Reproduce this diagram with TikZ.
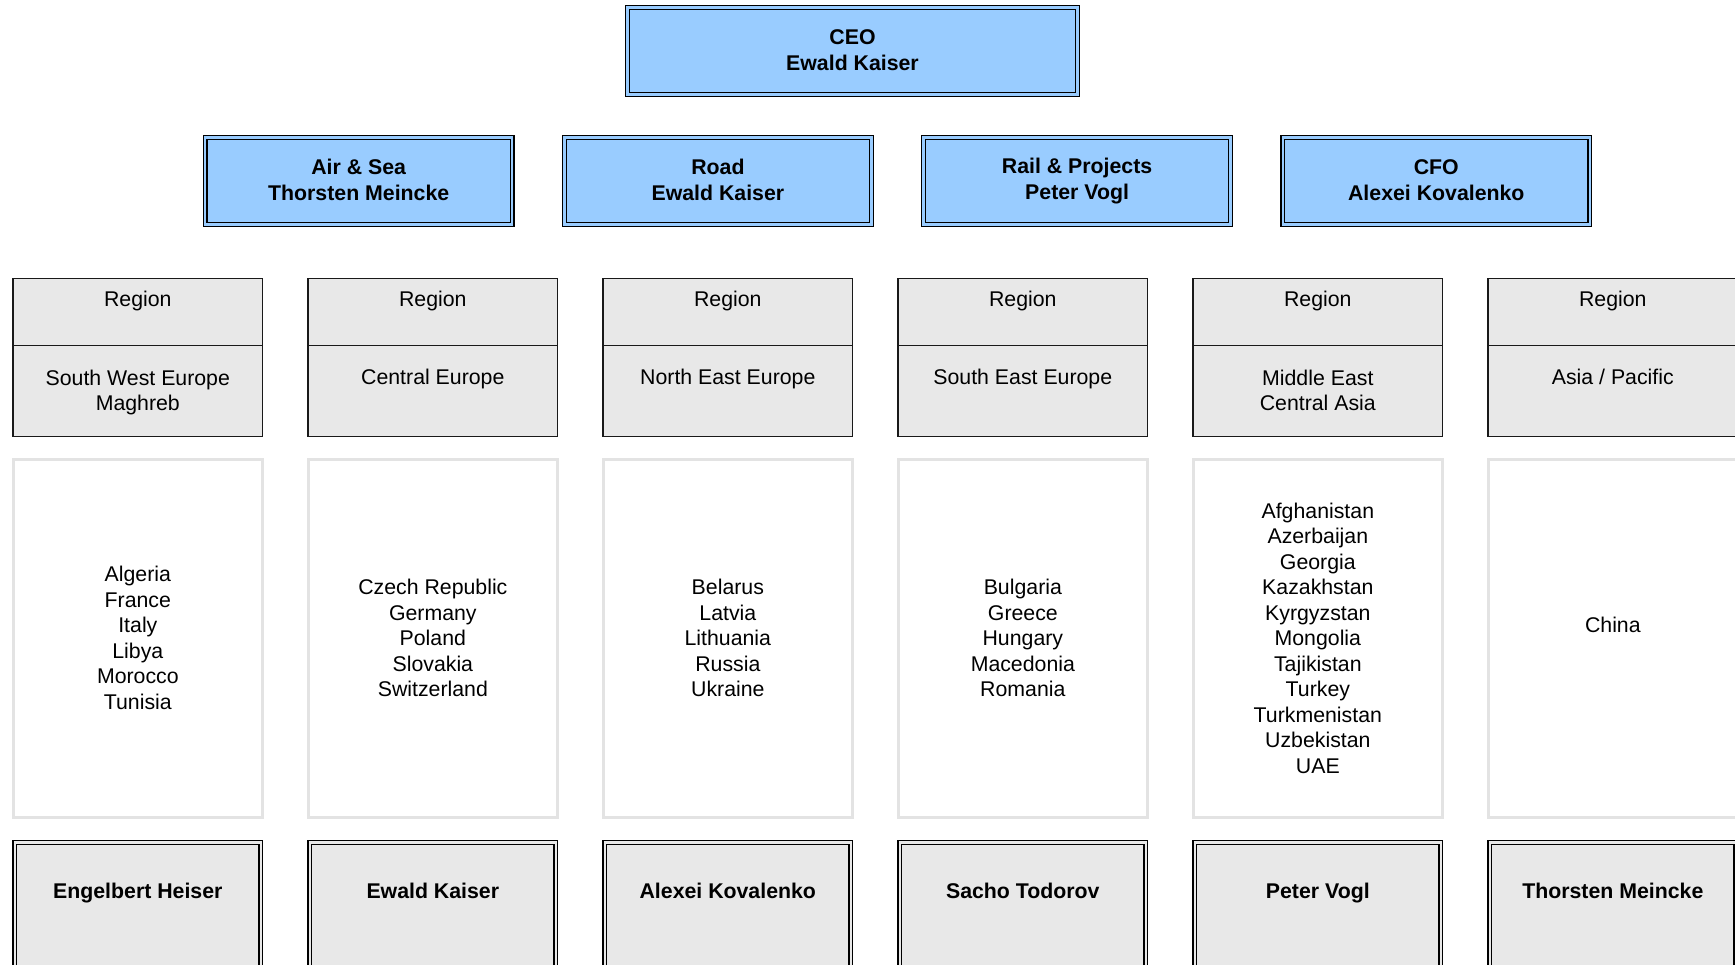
\documentclass[tikz,border=0pt]{standalone}
\usepackage{fontspec}
\setmainfont{Liberation Sans}
\definecolor{boxblue}{HTML}{99CCFF}
\definecolor{boxgray}{HTML}{E8E8E8}
\definecolor{lightline}{HTML}{E3E3E3}
\newcommand\mystrut{\rule[-2pt]{0pt}{22.85pt}}
\begin{document}
\begin{tikzpicture}[x=1pt,y=-1pt,
  every node/.style={inner sep=0pt, outer sep=0pt},
  txt/.style={font=\fontsize{21.3}{25.5}\selectfont, align=center,
    execute at begin node=\mystrut, execute at end node=\mystrut},
  txtb/.style={txt, font=\fontsize{21.3}{25.5}\selectfont\bfseries},
  dbl/.style={draw=black, line width=1.4pt, double=#1, double distance=2.3pt,
    fill=#1, anchor=north west},
  bluebox/.style={dbl=boxblue, txtb, minimum width=307pt, minimum height=87pt},
  regbox/.style={draw=black!90, line width=1.5pt, fill=boxgray, anchor=north west,
    minimum width=249.5pt},
  ctrybox/.style={draw=lightline, line width=3pt, fill=white, anchor=north west,
    minimum width=249.3pt, minimum height=358pt, txt},
  botbox/.style={dbl=boxgray, minimum width=246pt, minimum height=140pt}
]
\useasboundingbox (0,0) rectangle (1735,965);
\clip (0,0) rectangle (1735,965);
\fill[white] (0,0) rectangle (1735,965);

% executive row
\node[bluebox, minimum width=450pt] (ceo) at (627.5,7.5) {CEO\\Ewald Kaiser};
\node[bluebox] (air)  at (205.2,137.5)  {Air \& Sea\\Thorsten Meincke};
\node[bluebox] (road) at (564.4,137.5)  {Road\\Ewald Kaiser};
\node[bluebox] (rail) at (923.6,137.5)  {Rail \& Projects\\Peter Vogl};
\node[bluebox] (cfo)  at (1282.8,137.5) {CFO\\Alexei Kovalenko};

% region columns
\foreach \i/\x/\reg/\rs/\ctry/\who in {
  1/12.3/{South West Europe\\Maghreb}/-23.95/{Algeria\\France\\Italy\\Libya\\Morocco\\Tunisia}/{Engelbert Heiser},
  2/307.3/{Central Europe}/-18.45/{Czech Republic\\Germany\\Poland\\Slovakia\\Switzerland}/{Ewald Kaiser},
  3/602.3/{North East Europe}/-18.45/{Belarus\\Latvia\\Lithuania\\Russia\\Ukraine}/{Alexei Kovalenko},
  4/897.3/{South East Europe}/-18.45/{Bulgaria\\Greece\\Hungary\\Macedonia\\Romania}/{Sacho Todorov},
  5/1192.3/{Middle East\\Central Asia}/-23.95/{Afghanistan\\Azerbaijan\\Georgia\\Kazakhstan\\Kyrgyzstan\\Mongolia\\Tajikistan\\Turkey\\Turkmenistan\\Uzbekistan\\UAE}/{Peter Vogl},
  6/1487.3/{Asia / Pacific}/-18.45/{China\\\mbox{}}/{Thorsten Meincke}}
{
  \node[regbox, minimum height=67.25pt] (regtop\i) at (\x+0.75,278.45) {};
  \node[txt, anchor=north, yshift=-7.4pt] (reglbl\i) at (regtop\i.north) {Region};
  \node[regbox, minimum height=90.85pt] (regbot\i) at (\x+0.75,345.7) {};
  \node[txt, anchor=north, yshift=\rs pt] (regname\i) at (regbot\i.north) {\reg};
  \node[ctrybox] (ctry\i) at (\x+0.9,459.8) {\ctry};
  \node[botbox] (bot\i) at (\x+2.5,842.5) {};
  \node[txtb, anchor=north, yshift=-35.6pt] (who\i) at (bot\i.north) {\who};
}
\end{tikzpicture}
\end{document}
